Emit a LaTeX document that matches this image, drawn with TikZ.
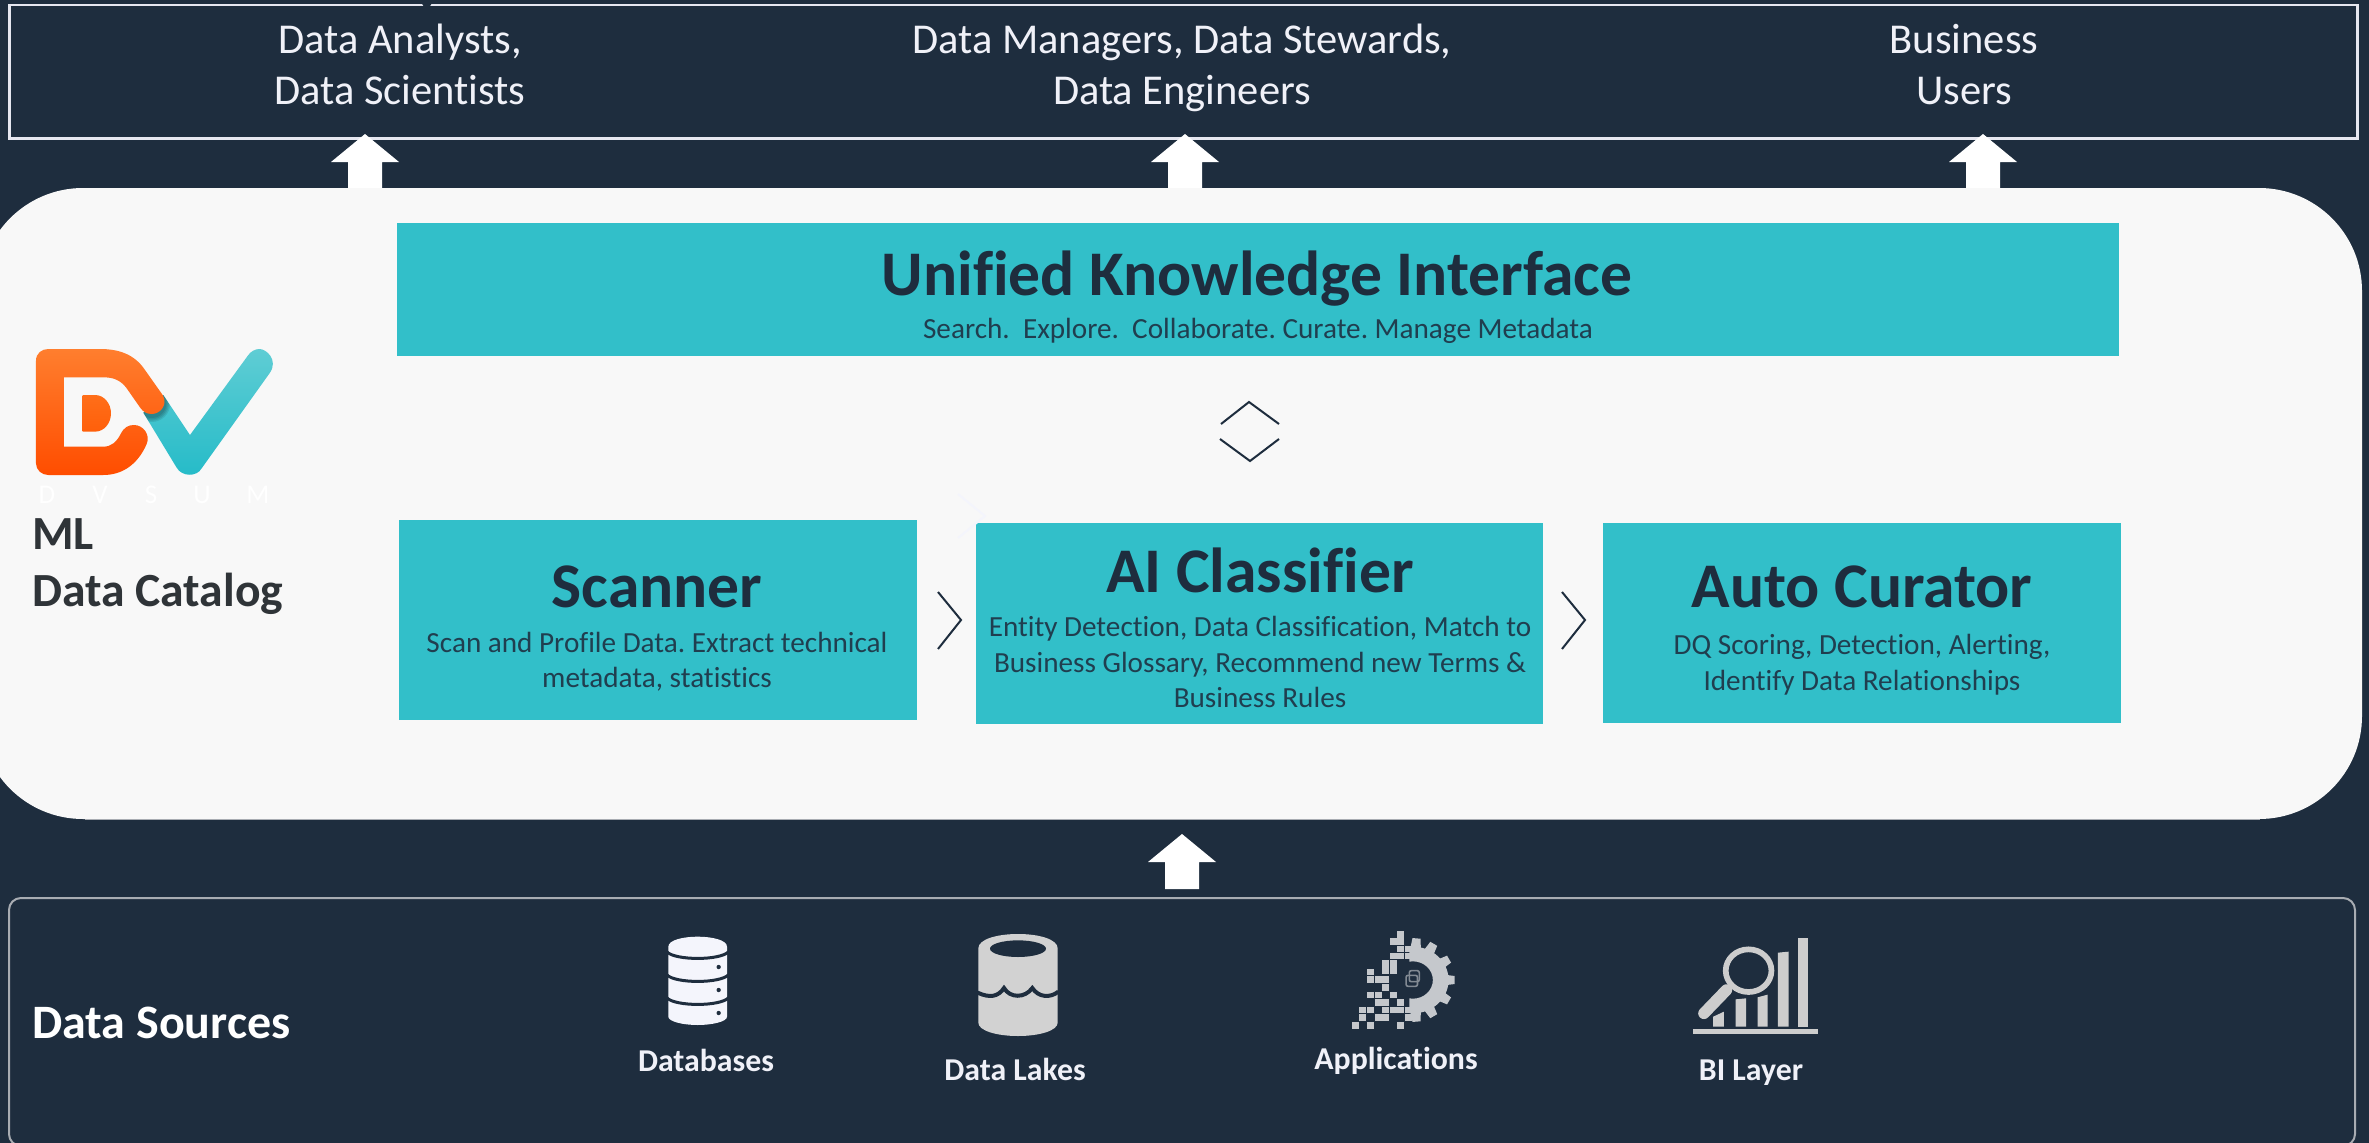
\documentclass[tikz,border=0pt]{standalone}
\usepackage{fontspec}
\setmainfont[Ligatures=NoCommon]{Carlito}
\definecolor{bgdark}{HTML}{1E2D3E}
\definecolor{cardc}{HTML}{32BFC9}
\definecolor{panelc}{HTML}{F8F8F8}
\definecolor{lineW}{HTML}{E6E7F0}
\definecolor{lineG}{HTML}{A8ACB2}
\definecolor{labelW}{HTML}{F0F1F8}
\definecolor{catc}{HTML}{2F3438}
\definecolor{iconA}{HTML}{F4F5FC}
\definecolor{iconB}{HTML}{D2D2D2}
\definecolor{iconC}{HTML}{C5C8CC}
\definecolor{iconD}{HTML}{CDCDCD}
\definecolor{logoTa}{HTML}{5FCDD4}
\definecolor{logoTb}{HTML}{25BBC8}
\definecolor{logoOa}{HTML}{FF7E2E}
\definecolor{logoOb}{HTML}{FF4D00}
\definecolor{logoIa}{HTML}{FF6E19}
\definecolor{logoIb}{HTML}{FF5F0A}
\frenchspacing
\newcommand{\fsz}[1]{\fontsize{#1}{#1}\selectfont}
\newcommand{\blockup}[3]{% centre x, apex y, bottom y
  \fill[white] (#1,#2) -- (#1+34,#2+28) -- (#1+17,#2+28) -- (#1+17,#3)
     -- (#1-17,#3) -- (#1-17,#2+28) -- (#1-34,#2+28) -- cycle;}
\tikzset{
  card/.style={fill=cardc,draw=none,inner sep=0pt,anchor=north west},
  txt/.style={inner sep=0pt,anchor=base},
  who/.style={txt,text=labelW,font=\fsz{42.5}},
  ttl/.style={txt,text=bgdark,font=\fsz{63.6}\bfseries},
  dsc/.style={txt,text=bgdark!88!cardc,font=\fsz{29.2}},
  src/.style={txt,text=labelW,font=\fsz{31.8}\bfseries},
  chev/.style={draw=bgdark,line width=2pt},
  zoomed/.style={x=0.33333pt,y=-0.33333pt},
  zoomedw/.style={x=0.35714pt,y=-0.33333pt},
}
\begin{document}
\begin{tikzpicture}[x=1pt,y=-1pt]
\useasboundingbox (0,0) rectangle (2369,1143);
\fill[bgdark] (0,0) rectangle (2369,1143);

% top box
\node[draw=lineW,line width=2.5pt,inner sep=0pt,minimum width=2348pt,minimum height=133.5pt,anchor=north west] (users) at (8,3.5) {};
\fill[bgdark] (420,1) -- (433,1) -- (429,8) -- (425,8) -- cycle;
\node[who] (u1a) at (400,53) {Data Analysts,};
\node[who] (u1b) at (400,104) {Data Scientists};
\node[who] (u2a) at (1182,53) {Data Managers, Data Stewards,};
\node[who] (u2b) at (1182,104) {Data Engineers};
\node[who] (u3a) at (1964,53) {Business};
\node[who] (u3b) at (1964,104) {Users};

% panel
\fill[panelc,rounded corners=103pt] (-20,188) rectangle (2362,819);
\draw[lineG,line width=0.8pt] (85,819.3) -- (2260,819.3);

% block arrows
\blockup{365}{134}{188}
\blockup{1185}{134}{188}
\blockup{1983}{134}{188}
\blockup{1182}{834}{889}

% cards
\node[card,minimum width=1722pt,minimum height=133pt] (uki) at (397,223) {};
\node[card,minimum width=518pt,minimum height=200pt] (scan) at (399,520) {};
\node[card,minimum width=567pt,minimum height=201pt] (ai) at (976,523) {};
\node[card,minimum width=518pt,minimum height=200pt] (auto) at (1603,523) {};

\node[ttl] (ukit) at (1257,295) {Unified Knowledge Interface};
\node[dsc] (ukid) at (1258,338) {Search.\ \ Explore.\ \ Collaborate. Curate. Manage Metadata};
\node[ttl] (scant) at (657,607) {Scanner};
\node[dsc] (scand1) at (657,652) {Scan and Profile Data. Extract technical};
\node[dsc] (scand2) at (657,687) {metadata, statistics};
\node[ttl] (ait) at (1260,592) {AI Classifier};
\node[dsc] (aid1) at (1260,636) {Entity Detection, Data Classification, Match to};
\node[dsc] (aid2) at (1260,672) {Business Glossary, Recommend new Terms \&};
\node[dsc] (aid3) at (1260,707) {Business Rules};
\node[ttl] (autot) at (1862,607) {Auto Curator};
\node[dsc] (autod1) at (1862,654) {DQ Scoring, Detection, Alerting,};
\node[dsc] (autod2) at (1862,690) {Identify Data Relationships};

% chevrons
\draw[chev] (1221,424) -- (1249,402) -- (1279,424);
\draw[chev] (1220,439) -- (1250,461) -- (1279,439);
\draw[chev] (938,592) -- (961,620) -- (938,649);
\draw[chev] (1562,592) -- (1585,620) -- (1562,649);
\draw[draw=iconA,line width=2pt] (958,494) -- (985,516) -- (958,538);

% logo
\begin{scope}[shift={(0,300)},zoomed]
  \shade[top color=logoTa,bottom color=logoTb]
    (430,338) -- (530,503) .. controls (545,530) and (590,532) .. (605,505)
    -- (810,218) .. controls (835,180) and (800,147) .. (778,147)
    .. controls (765,147) and (752,155) .. (745,165) -- (570,405) -- (490,285) -- cycle;
  \begin{scope}
    \clip (430,338) -- (530,503) -- (570,405) -- (490,285) -- cycle;
    \foreach \r in {44,48,52,56}{\fill[black,opacity=0.09] (455,310) circle[radius=\r];}
  \end{scope}
  \shade[top color=logoOa,bottom color=logoOb]
    (108,182) .. controls (108,160) and (125,147) .. (145,147) -- (300,147)
    .. controls (360,147) and (405,165) .. (435,210) -- (488,285)
    .. controls (505,315) and (480,342) .. (455,342)
    .. controls (440,342) and (430,335) .. (422,325) -- (378,262)
    .. controls (360,240) and (340,232) .. (310,232) -- (192,232) -- (192,440) -- (310,440)
    .. controls (335,440) and (350,425) .. (362,402)
    .. controls (372,382) and (385,375) .. (402,375)
    .. controls (430,375) and (452,405) .. (440,432)
    .. controls (415,490) and (370,525) .. (310,525) -- (145,525)
    .. controls (125,525) and (108,510) .. (108,490) -- cycle;
  \shade[top color=logoIa,bottom color=logoIb]
    (248,285) -- (285,285) .. controls (312,285) and (333,310) .. (333,340)
    .. controls (333,370) and (312,395) .. (285,395) -- (248,395) -- cycle;
\end{scope}
\node[txt,text=white,font=\fsz{27}] (dv1) at (47,503) {D};
\node[txt,text=white,font=\fsz{27}] (dv2) at (100,503) {V};
\node[txt,text=white,font=\fsz{27}] (dv3) at (151,503) {S};
\node[txt,text=white,font=\fsz{27}] (dv4) at (202,503) {U};
\node[txt,text=white,font=\fsz{27}] (dv5) at (258,503) {M};
\node[inner sep=0pt,anchor=base west,text=catc,font=\fsz{47.6}\bfseries] (ml) at (32,549) {ML};
\node[inner sep=0pt,anchor=base west,text=catc,font=\fsz{47.6}\bfseries] (dc) at (32,606) {Data Catalog};

% bottom box
\draw[lineG,line width=2pt,rounded corners=12pt] (9,898) rectangle (2355,1146);
\node[inner sep=0pt,anchor=base west,text=white,font=\fsz{48}\bfseries] (ds) at (32,1038) {Data Sources};
\node[src] (lb1) at (706,1071) {Databases};
\node[src] (lb2) at (1015,1080) {Data Lakes};
\node[src] (lb3) at (1396,1069) {Applications};
\node[src] (lb4) at (1751,1080) {BI Layer};

% database icon
\begin{scope}[shift={(600,900)},zoomed]
  \fill[iconA] (205,140) .. controls (205,120) and (250,110) .. (293,110)
     .. controls (336,110) and (381,120) .. (381,140) -- (381,350)
     .. controls (381,365) and (336,375) .. (293,375)
     .. controls (250,375) and (205,365) .. (205,350) -- cycle;
  \foreach \d in {0,69,138}{
    \draw[bgdark,line width=3pt] (200,\d+155) .. controls (225,\d+182) and (361,\d+182) .. (386,\d+155);
    \fill[bgdark] (356,\d+201) circle[radius=6.5];
  }
\end{scope}

% data lake icon
\begin{scope}[shift={(600,900)},zoomed]
  \fill[iconB] (1135,145) .. controls (1135,118) and (1190,102) .. (1254,102)
     .. controls (1318,102) and (1373,118) .. (1373,145) -- (1373,368)
     .. controls (1373,392) and (1318,408) .. (1254,408)
     .. controls (1190,408) and (1135,392) .. (1135,368) -- cycle;
  \fill[bgdark] (1254,146) ellipse[x radius=84,y radius=25];
  \draw[bgdark,line width=4pt] (1133,278) .. controls (1170,295) and (1195,290) .. (1212,264)
     .. controls (1230,295) and (1275,295) .. (1297,264)
     .. controls (1315,292) and (1350,295) .. (1375,275);
\end{scope}

% applications icon
\begin{scope}[shift={(1280,900)},zoomedw]
  \begin{scope}
    \clip (362,90) rectangle (500,390);
    \fill[iconC,even odd rule] (372,240) circle[radius=100] (372,240) circle[radius=56];
    \foreach \a in {-85,-60,-30,0,30,60,85}{
      \fill[iconC,rotate around={\a:(372,240)}] (460,224) -- (489,228) -- (489,252) -- (460,256) -- cycle;
    }
  \end{scope}
  \foreach \px/\py in {338/104,318/125,338/125,338/147,360/147,318/168,338/168,360/168,296/190,318/190,
     254/216,296/212,318/212,254/238,275/238,296/238,296/262,254/285,275/285,318/285,
     275/308,296/308,338/308,232/330,254/330,296/330,318/330,338/330,360/330,232/352,275/352,296/352,360/352,
     211/376,254/376,338/376}{
    \fill[iconC] (\px-10,\py-10) rectangle (\px+10,\py+10);
  }
  \draw[iconC!60!bgdark,line width=1.6pt,rounded corners=2pt] (353,226) rectangle (385,259);
  \draw[iconC!60!bgdark,line width=1.6pt,rounded corners=2pt] (362,212) rectangle (390,245);
\end{scope}

% BI icon
\begin{scope}[shift={(1280,900)},zoomedw]
  \fill[iconD] (1155,386) rectangle (1505,402);
  \fill[iconD] (1213,380) -- (1213,350) -- (1243,335) -- (1243,380) -- cycle;
  \fill[iconD] (1276,380) -- (1276,298) -- (1305,295) -- (1305,380) -- cycle;
  \fill[iconD] (1337,380) -- (1337,292) -- (1365,284) -- (1365,380) -- cycle;
  \fill[iconD] (1394,380) -- (1394,158) -- (1424,155) -- (1424,380) -- cycle;
  \fill[iconD] (1449,380) -- (1449,115) -- (1478,115) -- (1478,380) -- cycle;
  \draw[bgdark,line width=3pt,fill=bgdark] (1312,212) circle[radius=76];
  \draw[iconD,line width=5.7pt] (1312,212) circle[radius=64];
  \draw[iconD,line width=11.5pt,line cap=round] (1250,270) -- (1187,340);
\end{scope}
\end{tikzpicture}
\end{document}
